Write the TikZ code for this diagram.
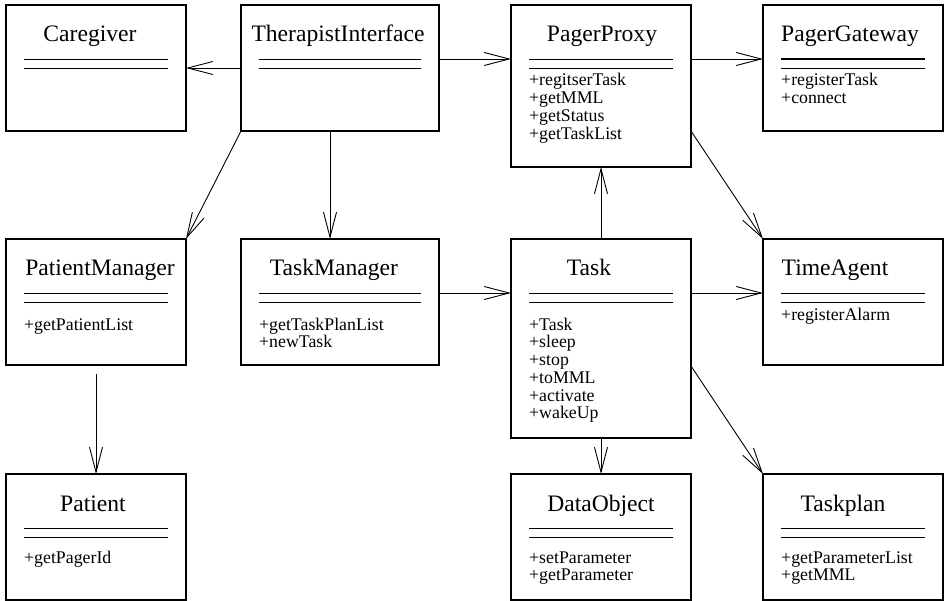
\documentclass[tikz,border=0pt]{standalone}
\usepackage{fontspec}
\setmainfont{Liberation Serif}
\usetikzlibrary{arrows.meta}
\tikzset{
  cls/.style={draw, line width=1.3pt, anchor=north west, inner sep=0pt, outer sep=0pt,
    minimum width=180pt, minimum height=126pt},
  title/.style={anchor=base, inner sep=0pt, font=\fontsize{23.6pt}{24pt}\selectfont},
  ops/.style={anchor=base west, inner sep=0pt, font=\fontsize{17.8pt}{17.8pt}\selectfont},
  sep/.style={line width=0.9pt},
  assoc/.style={line width=0.9pt, -{Straight Barb[length=25pt,width=13pt]}}
}
\newcommand{\oplist}[1]{\begin{tabular}[t]{@{}l@{}}#1\end{tabular}}
\begin{document}
\begin{tikzpicture}[x=1pt,y=-1pt]
		\useasboundingbox (0,0) rectangle (944,601);
		% top row
		\node[cls] (cg) at (6,5) {};
		\node[title] (cg-t) at ([xshift=-6pt,yshift=-37pt]cg.north) {Caregiver};
		\draw[sep] ([xshift=18pt,yshift=-54pt]cg.north west) -- ([xshift=-18pt,yshift=-54pt]cg.north east);
		\draw[sep] ([xshift=18pt,yshift=-63pt]cg.north west) -- ([xshift=-18pt,yshift=-63pt]cg.north east);
		%
		\node[cls, minimum width=198pt] (ti) at (241,5) {};
		\node[title] (ti-t) at ([xshift=-2pt,yshift=-37pt]ti.north) {TherapistInterface};
		\draw[sep] ([xshift=18pt,yshift=-54pt]ti.north west) -- ([xshift=-18pt,yshift=-54pt]ti.north east);
		\draw[sep] ([xshift=18pt,yshift=-63pt]ti.north west) -- ([xshift=-18pt,yshift=-63pt]ti.north east);
		%
		\node[cls, minimum height=162pt] (pp) at (511,5) {};
		\node[title] (pp-t) at ([xshift=1pt,yshift=-37pt]pp.north) {PagerProxy};
		\draw[sep] ([xshift=18pt,yshift=-54pt]pp.north west) -- ([xshift=-18pt,yshift=-54pt]pp.north east);
		\draw[sep] ([xshift=18pt,yshift=-63pt]pp.north west) -- ([xshift=-18pt,yshift=-63pt]pp.north east);
		\node[ops] (pp-o) at ([xshift=18pt,yshift=-81pt]pp.north west) {\oplist{+regitserTask\\+getMML\\+getStatus\\+getTaskList}};
		%
		\node[cls] (pg) at (763,5) {};
		\node[title] (pg-t) at ([xshift=-3pt,yshift=-37pt]pg.north) {PagerGateway};
		\draw[sep, line width=1.8pt] ([xshift=18pt,yshift=-54pt]pg.north west) -- ([xshift=-18pt,yshift=-54pt]pg.north east);
		\draw[sep] ([xshift=18pt,yshift=-63pt]pg.north west) -- ([xshift=-18pt,yshift=-63pt]pg.north east);
		\node[ops] (pg-o) at ([xshift=18pt,yshift=-81pt]pg.north west) {\oplist{+registerTask\\+connect}};
		% middle row
		\node[cls] (pm) at (6,239) {};
		\node[title] (pm-t) at ([xshift=4pt,yshift=-37pt]pm.north) {PatientManager};
		\draw[sep] ([xshift=18pt,yshift=-54pt]pm.north west) -- ([xshift=-18pt,yshift=-54pt]pm.north east);
		\draw[sep] ([xshift=18pt,yshift=-63pt]pm.north west) -- ([xshift=-18pt,yshift=-63pt]pm.north east);
		\node[ops] (pm-o) at ([xshift=18pt,yshift=-91pt]pm.north west) {\oplist{+getPatientList}};
		%
		\node[cls, minimum width=198pt] (tm) at (241,239) {};
		\node[title] (tm-t) at ([xshift=-6pt,yshift=-37pt]tm.north) {TaskManager};
		\draw[sep] ([xshift=18pt,yshift=-54pt]tm.north west) -- ([xshift=-18pt,yshift=-54pt]tm.north east);
		\draw[sep] ([xshift=18pt,yshift=-63pt]tm.north west) -- ([xshift=-18pt,yshift=-63pt]tm.north east);
		\node[ops] (tm-o) at ([xshift=18pt,yshift=-91pt]tm.north west) {\oplist{+getTaskPlanList\\+newTask}};
		%
		\node[cls, minimum height=199pt] (task) at (511,239) {};
		\node[title] (task-t) at ([xshift=-12pt,yshift=-37pt]task.north) {Task};
		\draw[sep] ([xshift=18pt,yshift=-54pt]task.north west) -- ([xshift=-18pt,yshift=-54pt]task.north east);
		\draw[sep] ([xshift=18pt,yshift=-63pt]task.north west) -- ([xshift=-18pt,yshift=-63pt]task.north east);
		\node[ops] (task-o) at ([xshift=18pt,yshift=-91pt]task.north west) {\oplist{+Task\\+sleep\\+stop\\+toMML\\+activate\\+wakeUp}};
		%
		\node[cls] (ta) at (763,239) {};
		\node[title] (ta-t) at ([xshift=-18pt,yshift=-37pt]ta.north) {TimeAgent};
		\draw[sep] ([xshift=18pt,yshift=-54pt]ta.north west) -- ([xshift=-18pt,yshift=-54pt]ta.north east);
		\draw[sep] ([xshift=18pt,yshift=-63pt]ta.north west) -- ([xshift=-18pt,yshift=-63pt]ta.north east);
		\node[ops] (ta-o) at ([xshift=18pt,yshift=-81pt]ta.north west) {\oplist{+registerAlarm}};
		% bottom row
		\node[cls] (pt) at (6,474) {};
		\node[title] (pt-t) at ([xshift=-3pt,yshift=-37pt]pt.north) {Patient};
		\draw[sep] ([xshift=18pt,yshift=-54pt]pt.north west) -- ([xshift=-18pt,yshift=-54pt]pt.north east);
		\draw[sep] ([xshift=18pt,yshift=-63pt]pt.north west) -- ([xshift=-18pt,yshift=-63pt]pt.north east);
		\node[ops] (pt-o) at ([xshift=18pt,yshift=-89pt]pt.north west) {\oplist{+getPagerId}};
		%
		\node[cls] (dobj) at (511,474) {};
		\node[title] (dobj-t) at ([yshift=-37pt]dobj.north) {DataObject};
		\draw[sep] ([xshift=18pt,yshift=-54pt]dobj.north west) -- ([xshift=-18pt,yshift=-54pt]dobj.north east);
		\draw[sep] ([xshift=18pt,yshift=-63pt]dobj.north west) -- ([xshift=-18pt,yshift=-63pt]dobj.north east);
		\node[ops] (dobj-o) at ([xshift=18pt,yshift=-89pt]dobj.north west) {\oplist{+setParameter\\+getParameter}};
		%
		\node[cls] (tp) at (763,474) {};
		\node[title] (tp-t) at ([xshift=-10pt,yshift=-37pt]tp.north) {Taskplan};
		\draw[sep] ([xshift=18pt,yshift=-54pt]tp.north west) -- ([xshift=-18pt,yshift=-54pt]tp.north east);
		\draw[sep] ([xshift=18pt,yshift=-63pt]tp.north west) -- ([xshift=-18pt,yshift=-63pt]tp.north east);
		\node[ops] (tp-o) at ([xshift=18pt,yshift=-89pt]tp.north west) {\oplist{+getParameterList\\+getMML}};
		% associations
		\draw[assoc] ([yshift=-63pt]ti.north west) -- ([yshift=-63pt]cg.north east);
		\draw[assoc] ([yshift=-54pt]ti.north east) -- ([yshift=-54pt]pp.north west);
		\draw[assoc] ([yshift=-54pt]pp.north east) -- ([yshift=-54pt]pg.north west);
		\draw[assoc] (ti.south west) -- (pm.north east);
		\draw[assoc] ([xshift=-10pt]ti.south) -- ([xshift=-10pt]tm.north);
		\draw[assoc] ([yshift=-54pt]tm.north east) -- ([yshift=-54pt]task.north west);
		\draw[assoc] (task.north) -- (pp.south);
		\draw[assoc] ([yshift=36pt]pp.south east) -- (ta.north west);
		\draw[assoc] ([yshift=-54pt]task.north east) -- ([yshift=-54pt]ta.north west);
		\draw[assoc] ([yshift=-9pt]pm.south) -- (pt.north);
		\draw[assoc] (task.south) -- (dobj.north);
		\draw[assoc] ([yshift=72pt]task.south east) -- (tp.north west);
	\end{tikzpicture}
\end{document}
